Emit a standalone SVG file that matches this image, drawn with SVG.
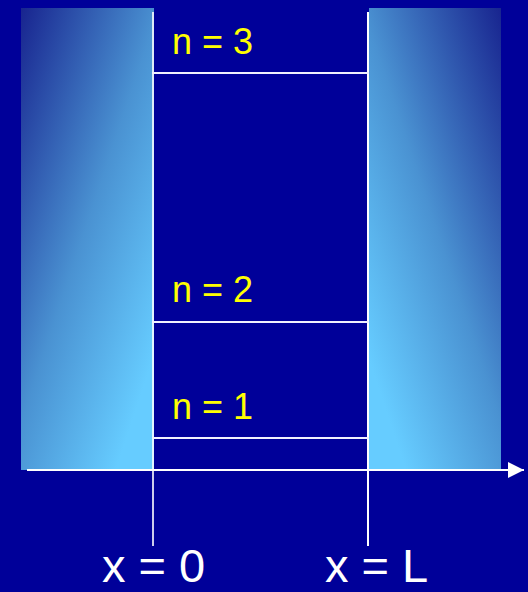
<svg xmlns="http://www.w3.org/2000/svg" width="528" height="592" viewBox="0 0 528 592">
<defs>
<linearGradient id="gl" gradientUnits="userSpaceOnUse" x1="21" y1="8" x2="270" y2="91">
<stop offset="0" stop-color="#18248f"/>
<stop offset="0.5" stop-color="#4a92d2"/>
<stop offset="0.9" stop-color="#66ccff"/>
</linearGradient>
<linearGradient id="gr" gradientUnits="userSpaceOnUse" x1="501" y1="8" x2="252" y2="91">
<stop offset="0" stop-color="#18248f"/>
<stop offset="0.5" stop-color="#4a92d2"/>
<stop offset="0.9" stop-color="#66ccff"/>
</linearGradient>
<marker id="arrow" markerUnits="userSpaceOnUse" markerWidth="18" markerHeight="18" refX="16" refY="8" orient="auto">
<path d="M0,0 L16,8 L0,16 Z" fill="#ffffff"/>
</marker>
<style>
.line{stroke:#ffffff;stroke-width:2;fill:none}
.lvl{stroke:#f0f0ff;stroke-width:2;fill:none}
.lab{font-family:"Liberation Sans",Arial,sans-serif;font-size:36px;fill:#ffff00}
.xlab{font-family:"Liberation Sans",Arial,sans-serif;font-size:47px;fill:#ffffff}
</style>
</defs>
<rect width="528" height="592" fill="#000099"/>
<g id="wall-left"><rect x="21" y="8" width="133" height="462" fill="url(#gl)"/></g>
<g id="wall-right"><rect x="369" y="8" width="132" height="462" fill="url(#gr)"/></g>
<g id="connectors">
<line class="line" x1="153" y1="12" x2="153" y2="546" stroke-opacity="0.8"/>
<line class="line" x1="368" y1="12" x2="368" y2="546"/>
<line class="lvl" x1="152" y1="73" x2="369" y2="73"/>
<line class="lvl" x1="152" y1="322" x2="369" y2="322"/>
<line class="lvl" x1="152" y1="438" x2="369" y2="438"/>
<line class="line" x1="27" y1="470" x2="524" y2="470" marker-end="url(#arrow)"/>
</g>
<g id="label-n3"><text class="lab" x="172" y="54">n = 3</text></g>
<g id="label-n2"><text class="lab" x="172" y="302">n = 2</text></g>
<g id="label-n1"><text class="lab" x="172" y="419">n = 1</text></g>
<g id="label-x0"><text class="xlab" x="102" y="582">x = 0</text></g>
<g id="label-xL"><text class="xlab" x="325" y="582">x = L</text></g>
</svg>
